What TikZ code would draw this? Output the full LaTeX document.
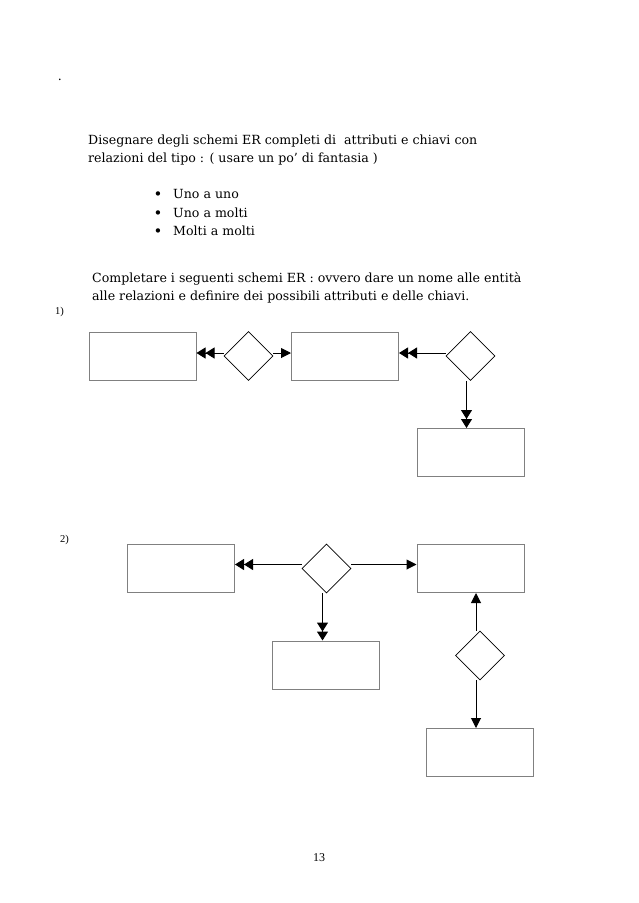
\documentclass[tikz,border=0pt]{standalone}
\usepackage{fontspec}
\setmainfont{DejaVu Serif}
\newfontfamily\timesf{Liberation Serif}
\usetikzlibrary{arrows.meta,shapes.geometric}
\tikzset{
  ent/.style={draw=black!50,line width=1pt,minimum width=107pt,minimum height=48pt,inner sep=0pt},
  rel/.style={draw=black,line width=0.8pt,diamond,minimum width=49pt,minimum height=49pt,inner sep=0pt,aspect=1},
  txt/.style={anchor=base west,inner sep=0pt,font=\fontsize{12.6}{15}\selectfont},
  small/.style={anchor=base west,inner sep=0pt,font=\timesf\fontsize{10.5}{12}\selectfont},
  conn/.style={line width=1pt},
  one/.style={conn,-{Triangle[length=10pt,width=10pt]}},
  many/.style={conn,-{Triangle[length=9pt,width=11pt]Triangle[length=9pt,width=11pt]}},
}
\begin{document}
\begin{tikzpicture}[x=1pt,y=-1pt]
\useasboundingbox (0,0) rectangle (638,903);
% header text
\node[small,font=\timesf\fontsize{14}{14}\selectfont] (dot) at (58,80) {.};
\node[txt] (l1) at (88,144) {Disegnare degli schemi ER completi di\ \ attributi e chiavi con};
\node[txt] (l2) at (88,162) {relazioni del tipo : ( usare un po’ di fantasia )};
\node[txt,anchor=base,font=\fontsize{15}{15}\selectfont] (b1) at (158,199) {•};
\node[txt] (t1) at (173,198) {Uno a uno};
\node[txt,anchor=base,font=\fontsize{15}{15}\selectfont] (b2) at (158,218) {•};
\node[txt] (t2) at (173,217) {Uno a molti};
\node[txt,anchor=base,font=\fontsize{15}{15}\selectfont] (b3) at (158,236) {•};
\node[txt] (t3) at (173,235) {Molti a molti};
\node[txt] (c1) at (92,282) {Completare i seguenti schemi ER : ovvero dare un nome alle entità};
\node[txt] (c2) at (92,300) {alle relazioni e definire dei possibili attributi e delle chiavi.};
\node[small] (n1) at (55,314) {1)};
\node[small] (n2) at (60,542) {2)};
\node[small,anchor=base,font=\timesf\fontsize{12}{12}\selectfont] (pg) at (319,861) {13};
% diagram 1
\node[ent] (A) at (142.5,356) {};
\node[rel] (R1) at (248.5,356) {};
\node[ent] (B) at (345,356) {};
\node[rel] (R2) at (470.5,356) {};
\node[ent] (C) at (470.5,452.5) {};
\draw[many] ([yshift=3pt]R1.west) -- ([yshift=3pt]R1.west -| A.east);
\draw[one] ([yshift=3pt]R1.east) -- ([yshift=3pt]R1.east -| B.west);
\draw[many] ([yshift=3pt]R2.west) -- ([yshift=3pt]R2.west -| B.east);
\draw[many] ([xshift=-4pt]R2.south) -- ([xshift=-4pt]R2.south |- C.north);
% diagram 2
\node[ent] (D) at (181,568.5) {};
\node[rel] (R3) at (326.5,568.5) {};
\node[ent] (E) at (470.5,568.5) {};
\node[ent] (F) at (326,665) {};
\node[rel] (R4) at (480,655.5) {};
\node[ent] (G) at (480,752.5) {};
\draw[many] ([yshift=4pt]R3.west) -- ([yshift=4pt]R3.west -| D.east);
\draw[one] ([yshift=4pt]R3.east) -- ([yshift=4pt]R3.east -| E.west);
\draw[many] ([xshift=-4pt]R3.south) -- ([xshift=-4pt]R3.south |- F.north);
\draw[one] ([xshift=-4pt]R4.north) -- ([xshift=-4pt]R4.north |- E.south);
\draw[one] ([xshift=-4pt]R4.south) -- ([xshift=-4pt]R4.south |- G.north);
\end{tikzpicture}
\end{document}
